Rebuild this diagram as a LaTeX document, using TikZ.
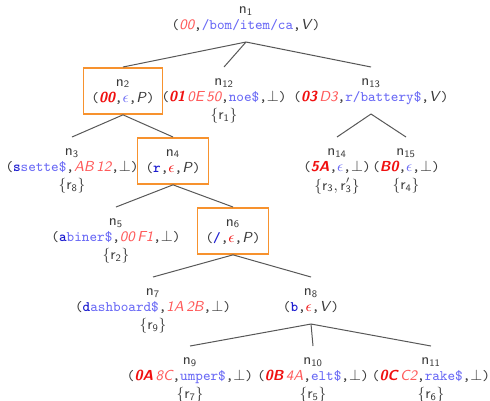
\documentclass[tikz,border=0pt]{standalone}
\definecolor{hexlight}{HTML}{FF5A5A}
\definecolor{hexbold}{HTML}{F01010}
\definecolor{strlight}{HTML}{6A6AF5}
\definecolor{strbold}{HTML}{1E1ED0}
\definecolor{ink}{HTML}{3A3A3A}
\definecolor{boxor}{HTML}{F7922E}
\newcommand{\hxb}[1]{{\color{hexbold}\sffamily\bfseries\itshape #1}}
\newcommand{\hxl}[1]{{\color{hexlight}\sffamily\itshape #1}}
\newcommand{\stl}[1]{{\color{strlight}\ttfamily #1}}
\newcommand{\stb}[1]{{\color{strbold}\ttfamily\bfseries #1}}
\newcommand{\epsb}{{\color{strlight}$\epsilon$}}
\newcommand{\epsr}{{\color{hexbold}$\epsilon$}}
\newcommand{\lp}{\texttt{(}}
\newcommand{\rp}{\texttt{)}}
\newcommand{\cm}{\texttt{,}}
\newcommand{\bt}{$\bot$}
\newcommand{\VV}{\textsf{\textit{V}}}
\newcommand{\PP}{\textsf{\textit{P}}}
\newcommand{\nl}[1]{$\mathsf{n}_{\mathsf{#1}}$\strut}
\tikzset{
  tn/.style={anchor=north, align=center, inner xsep=4.8pt, inner ysep=4.3pt,
    text=ink, font=\fontsize{8.7}{9.6}\selectfont},
  sel/.style={tn, draw=boxor, line width=0.9pt},
  edge/.style={draw=ink!85, line width=0.6pt}
}
\begin{document}
\begin{tikzpicture}[x=0.6pt, y=-0.6pt]
\useasboundingbox (0,0) rectangle (490,400);
% level 0
\node[tn] (n1) at (246,-5) {\nl{1}\\ \lp\hxl{00}\cm\stl{/bom/item/ca}\cm\VV\rp\strut};
% level 1
\node[sel] (n2) at (123,67) {\nl{2}\\ \lp\hxb{00}\cm\epsb\cm\PP\rp\strut};
\node[tn] (n12) at (224,67) {\nl{12}\\ \lp\hxb{01}\,\hxl{0E\,50}\cm\stl{noe\$}\cm\bt\rp\strut\\ $\{\mathsf{r}_{\mathsf{1}}\}$\strut};
\node[tn] (n13) at (371,67) {\nl{13}\\ \lp\hxb{03}\,\hxl{D3}\cm\stl{r/battery\$}\cm\VV\rp\strut};
% level 2
\node[tn] (n3) at (72,137) {\nl{3}\\ \lp\stb{s}\stl{sette\$}\cm\hxl{AB\,12}\cm\bt\rp\strut\\ $\{\mathsf{r}_{\mathsf{8}}\}$\strut};
\node[sel] (n4) at (173,137) {\nl{4}\\ \lp\stb{r}\cm\epsr\cm\PP\rp\strut};
\node[tn] (n14) at (337,137) {\nl{14}\\ \lp\hxb{5A}\cm\epsb\cm\bt\rp\strut\\ $\{\mathsf{r}_{\mathsf{3}},\mathsf{r}'_{\mathsf{3}}\}$\strut};
\node[tn] (n15) at (406,137) {\nl{15}\\ \lp\hxb{B0}\cm\epsb\cm\bt\rp\strut\\ $\{\mathsf{r}_{\mathsf{4}}\}$\strut};
% level 3
\node[tn] (n5) at (116,207) {\nl{5}\\ \lp\stb{a}\stl{biner\$}\cm\hxl{00\,F1}\cm\bt\rp\strut\\ $\{\mathsf{r}_{\mathsf{2}}\}$\strut};
\node[sel] (n6) at (233,207) {\nl{6}\\ \lp\stb{/}\cm\epsr\cm\PP\rp\strut};
% level 4
\node[tn] (n7) at (153,277) {\nl{7}\\ \lp\stb{d}\stl{ashboard\$}\cm\hxl{1A\,2B}\cm\bt\rp\strut\\ $\{\mathsf{r}_{\mathsf{9}}\}$\strut};
\node[tn] (n8) at (311,277) {\nl{8}\\ \lp\stb{b}\cm\epsr\cm\VV\rp\strut};
% level 5
\node[tn] (n9) at (190,346) {\nl{9}\\ \lp\hxb{0A}\,\hxl{8C}\cm\stl{umper\$}\cm\bt\rp\strut\\ $\{\mathsf{r}_{\mathsf{7}}\}$\strut};
\node[tn] (n10) at (313,346) {\nl{10}\\ \lp\hxb{0B}\,\hxl{4A}\cm\stl{elt\$}\cm\bt\rp\strut\\ $\{\mathsf{r}_{\mathsf{5}}\}$\strut};
\node[tn] (n11) at (431,346) {\nl{11}\\ \lp\hxb{0C}\,\hxl{C2}\cm\stl{rake\$}\cm\bt\rp\strut\\ $\{\mathsf{r}_{\mathsf{6}}\}$\strut};
% edges
\draw[edge] (n1.south) -- (n2.north);
\draw[edge] (n1.south) -- (n12.north);
\draw[edge] (n1.south) -- (n13.north);
\draw[edge] (n2.south) -- (n3.north);
\draw[edge] (n2.south) -- (n4.north);
\draw[edge] (n13.south) -- (n14.north);
\draw[edge] (n13.south) -- (n15.north);
\draw[edge] (n4.south) -- (n5.north);
\draw[edge] (n4.south) -- (n6.north);
\draw[edge] (n6.south) -- (n7.north);
\draw[edge] (n6.south) -- (n8.north);
\draw[edge] (n8.south) -- (n9.north);
\draw[edge] (n8.south) -- (n10.north);
\draw[edge] (n8.south) -- (n11.north);
\end{tikzpicture}
\end{document}
